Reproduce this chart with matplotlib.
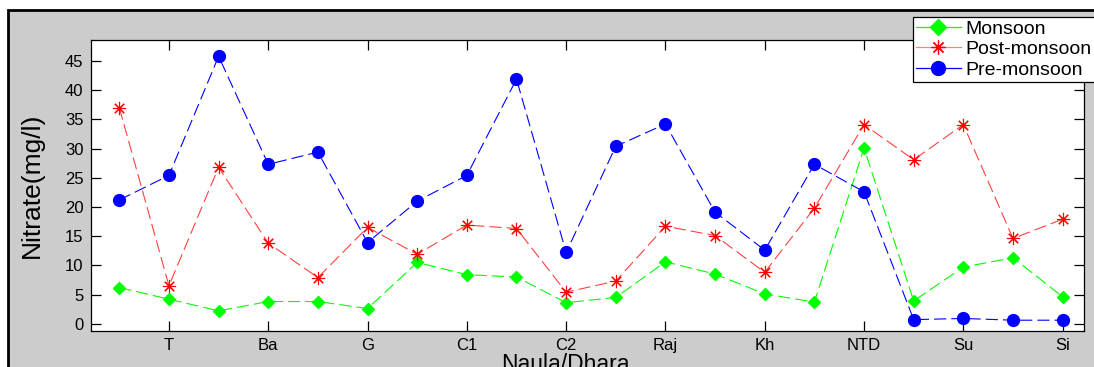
import matplotlib
matplotlib.use("Agg")
import matplotlib.pyplot as plt
from matplotlib.patches import Rectangle
from matplotlib.lines import Line2D

sites = list(range(1, 21))
tick_pos = [2, 4, 6, 8, 10, 12, 14, 16, 18, 20]
tick_labels = ["T", "Ba", "G", "C1", "C2", "Raj", "Kh", "NTD", "Su", "Si"]

monsoon = [6.2, 4.2, 2.2, 3.8, 3.8, 2.6, 10.5, 8.4, 8.0, 3.6,
           4.5, 10.6, 8.5, 5.1, 3.7, 30.1, 3.9, 9.7, 11.3, 4.6]
post_monsoon = [37.0, 6.5, 26.8, 13.8, 7.9, 16.5, 11.9, 16.9, 16.3, 5.4,
                7.3, 16.7, 15.1, 8.8, 19.8, 34.1, 28.1, 34.1, 14.6, 17.9]
pre_monsoon = [21.2, 25.4, 45.8, 27.3, 29.4, 13.9, 21.0, 25.4, 41.9, 12.2,
               30.4, 34.2, 19.1, 12.6, 27.3, 22.6, 0.7, 0.9, 0.6, 0.6]

W, H = 1094, 367
fig = plt.figure(figsize=(W / 100, H / 100), dpi=100)
fig.patch.set_facecolor("white")

# gray framed panel
fig.patches.append(Rectangle((8 / W, -0.1), 1.2, 1 - 10 / H + 0.1,
                             transform=fig.transFigure, facecolor="#cccccc",
                             edgecolor="black", linewidth=2, zorder=-10))

ax_w = 1084 - 90.5
ax = fig.add_axes([90.5 / W, 1 - 331 / H, ax_w / W, (331 - 40) / H])
ax.set_zorder(1)
ax.set_facecolor("white")

font = ["Liberation Sans", "DejaVu Sans"]
dash = (0, (11, 4.5))
ax.plot(sites, monsoon, color="#00ff00", linestyle=dash, linewidth=0.8,
        marker="D", markersize=6.5, label="Monsoon")
ax.plot(sites, post_monsoon, color="#ff4040", linestyle=dash, linewidth=0.8,
        marker=(8, 2, 0), markersize=9.5, markeredgewidth=0.8,
        markeredgecolor="#ff0000", label="Post-monsoon")
ax.plot(sites, pre_monsoon, color="#0000ff", linestyle=dash, linewidth=0.8,
        marker="o", markersize=8.5, label="Pre-monsoon")

ax.set_xlim(0.42, 20.43)
ax.set_ylim(-1.25, 48.6)
ax.set_xticks(tick_pos)
ax.set_xticklabels(tick_labels, fontfamily=font, fontsize=12)
ax.set_yticks(range(0, 50, 5))
ax.set_yticklabels([str(v) for v in range(0, 50, 5)], fontfamily=font, fontsize=12)
ax.tick_params(direction="in", top=True, right=True, length=7, width=0.9, pad=5)
for s in ax.spines.values():
    s.set_linewidth(0.9)

ax.set_ylabel("Nitrate(mg/l)", fontfamily=font, fontsize=19, va="center")
ax.yaxis.set_label_coords(-(90.5 - 32) / ax_w, 0.5)
ax.set_xlabel("Naula/Dhara", fontfamily=font, fontsize=16.5)
ax.xaxis.set_label_coords(0.478, -0.075)
ax.xaxis.label.set_va("top")

handles = [
    Line2D([], [], color="#00ff00", linewidth=0.9, marker="D", markersize=8),
    Line2D([], [], color="#ff8080", linewidth=0.9, marker=(8, 2, 0), markersize=10,
           markeredgecolor="#ff0000", markeredgewidth=0.9),
    Line2D([], [], color="#0000ff", linewidth=0.9, marker="o", markersize=10),
]
leg = fig.legend(handles, ["Monsoon", "Post-monsoon", "Pre-monsoon"],
                 loc="upper left", bbox_to_anchor=(913 / W, 1 - 17 / H),
                 prop={"family": font, "size": 14}, frameon=True, fancybox=False,
                 borderpad=0.15, labelspacing=0.15, handlelength=2.3,
                 handletextpad=0.25, borderaxespad=0)
leg.set_zorder(5)
leg.get_frame().set_edgecolor("black")
leg.get_frame().set_linewidth(0.9)
leg.get_frame().set_alpha(1)

fig.savefig("out.png", dpi=100, facecolor=fig.get_facecolor())
